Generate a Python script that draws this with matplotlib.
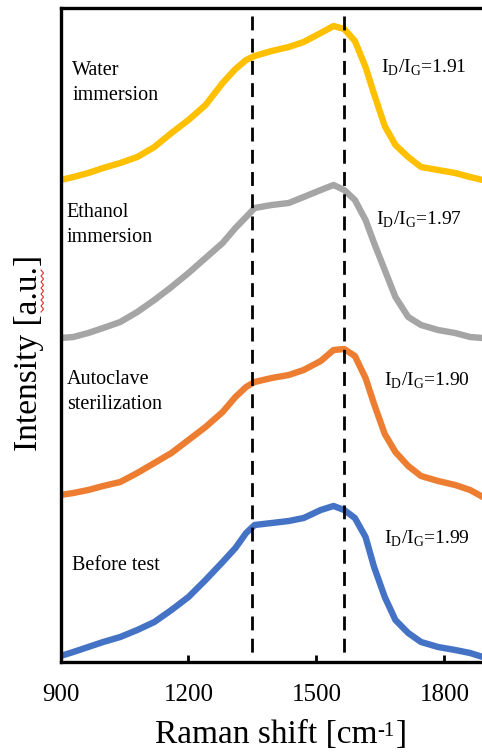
import numpy as np
import matplotlib
matplotlib.use('Agg')
import matplotlib.pyplot as plt
from matplotlib.lines import Line2D

plt.rcParams['font.family'] = 'Liberation Serif'
plt.rcParams['mathtext.fontset'] = 'custom'
plt.rcParams['mathtext.rm'] = 'Liberation Serif'

# Raman shift (cm-1)
shift = [900, 930, 965, 1000, 1040, 1080, 1120, 1160, 1200, 1240, 1280, 1310,
         1335, 1355, 1395, 1435, 1470, 1510, 1540, 1565, 1590, 1615, 1635,
         1660, 1685, 1715, 1745, 1785, 1825, 1860, 1890]

# stacked intensities (a.u., offsets included)
before_test = [0.06, 0.10, 0.15, 0.20, 0.25, 0.32, 0.40, 0.52, 0.65, 0.82, 1.00, 1.14,
               1.29, 1.37, 1.39, 1.41, 1.44, 1.52, 1.56, 1.52, 1.44, 1.25, 0.95,
               0.65, 0.42, 0.29, 0.20, 0.15, 0.12, 0.09, 0.05]
autoclave = [1.67, 1.69, 1.72, 1.76, 1.80, 1.89, 1.99, 2.09, 2.22, 2.35, 2.50, 2.65,
             2.75, 2.80, 2.84, 2.87, 2.92, 3.01, 3.12, 3.13, 3.06, 2.84, 2.58,
             2.28, 2.10, 1.96, 1.86, 1.81, 1.77, 1.72, 1.65]
ethanol = [3.24, 3.25, 3.29, 3.34, 3.40, 3.50, 3.62, 3.75, 3.89, 4.04, 4.19, 4.34,
           4.45, 4.54, 4.57, 4.59, 4.65, 4.72, 4.77, 4.72, 4.62, 4.42, 4.19,
           3.92, 3.65, 3.45, 3.37, 3.32, 3.29, 3.25, 3.24]
water = [4.82, 4.85, 4.89, 4.94, 4.99, 5.05, 5.15, 5.29, 5.42, 5.57, 5.79, 5.93,
         6.02, 6.06, 6.11, 6.15, 6.20, 6.29, 6.36, 6.33, 6.21, 5.95, 5.68,
         5.36, 5.17, 5.05, 4.95, 4.92, 4.89, 4.85, 4.82]

series = [before_test, autoclave, ethanol, water]
colors = ['#4472C4', '#ED7D31', '#A5A5A5', '#FFC000']
names = ['Before test', 'Autoclave\nsterilization', 'Ethanol\nimmersion', 'Water\nimmersion']
ratios = ['1.99', '1.90', '1.97', '1.91']
name_xy = [(926, 0.96), (915, 2.70), (915, 4.37), (928, 5.79)]
ratio_xy = [(1659, 1.23), (1659, 2.81), (1640, 4.42), (1652, 5.94)]
bands = [1350, 1565]

W, H = 482, 752
fig = plt.figure(figsize=(W / 100, H / 100), dpi=100)
# axes runs past the right edge, the picture is cropped there
ax = fig.add_axes([60.5 / W, 90 / H, 469.3 / W, 653.7 / H])
ax.set_xlim(900, 2000)
ax.set_ylim(0, 6.537)

for y, c in zip(series, colors):
    ax.plot(shift, y, color=c, lw=4.6, solid_joinstyle='round', zorder=2)

for b in bands:
    ax.plot([b, b], [6.46, 0], color='black', lw=2.0, dashes=(5, 3), zorder=3)

for (x, y), s in zip(name_xy, names):
    ax.text(x, y, s, fontsize=14.5, va='center', ha='left', linespacing=1.4)

for (x, y), r in zip(ratio_xy, ratios):
    ax.text(x, y, r'I$_\mathregular{D}$/I$_\mathregular{G}$=' + r, fontsize=14,
            va='center', ha='left')

ax.set_xticks([900, 1200, 1500, 1800])
ax.set_yticks([])
ax.tick_params(axis='x', direction='in', length=5, width=2, labelsize=18, pad=16)
for sp in ['left', 'bottom', 'top']:
    ax.spines[sp].set_linewidth(2.4)
ax.spines['right'].set_visible(False)

# x label built in pieces so the superscript keeps a plain hyphen
t1 = fig.text(155 / W, 1 - 743 / H, 'Raman shift [cm', fontsize=24,
              ha='left', va='baseline')
t2 = ax.annotate('-1', xy=(1, 0.93), xycoords=t1, fontsize=15,
                 ha='left', va='top', annotation_clip=False)
ax.annotate(']', xy=(1, 0), xycoords=(t2, t1), xytext=(1, 0),
            textcoords='offset points', fontsize=24, ha='left', va='bottom',
            annotation_clip=False)

ax.set_ylabel('Intensity [a.u.]', fontsize=24)
ax.yaxis.set_label_coords(-0.035, 0.473)

# red squiggle under "a.u." as in the source screenshot
yy = np.arange(270, 314, 3)
xx = np.where(np.arange(len(yy)) % 2 == 0, 41, 43.5)
fig.add_artist(Line2D(xx / W, 1 - yy / H, color='#e03030', lw=0.8))

fig.savefig('out.png', dpi=100)
